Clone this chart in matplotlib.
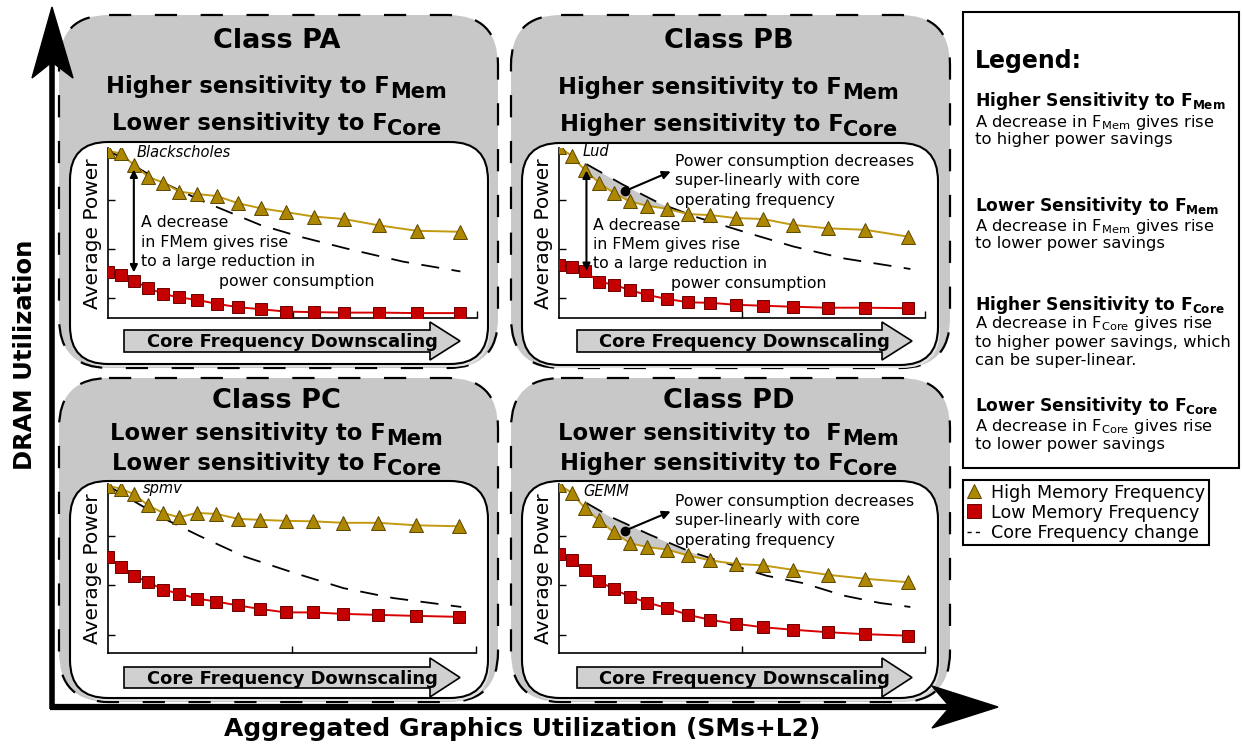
import numpy as np
import matplotlib
matplotlib.use("Agg")
from matplotlib import pyplot as plt
from matplotlib.patches import FancyBboxPatch, Polygon, Rectangle
from matplotlib.lines import Line2D

plt.rcParams['font.family'] = ['DejaVu Sans']
plt.rcParams['mathtext.fontset'] = 'dejavusans'
plt.rcParams['lines.scale_dashes'] = False

W, H = 1242, 747

"""Valores lidos do gráfico (eixo x: 0..2, eixo y: unidades de tick)"""
freq_steps = [0.0, 0.069, 0.141, 0.219, 0.300, 0.387, 0.481, 0.589,
              0.707, 0.827, 0.965, 1.116, 1.279, 1.469, 1.673, 1.908]

# Class PA - Blackscholes
pa_high = [3.00, 2.95, 2.71, 2.47, 2.35, 2.17, 2.12, 2.08, 1.93, 1.83, 1.75, 1.66, 1.61, 1.48, 1.37, 1.35]
pa_low = [0.52, 0.47, 0.35, 0.20, 0.08, 0.01, -0.04, -0.12, -0.19, -0.23, -0.28, -0.29, -0.30, -0.30, -0.31, -0.31]
pa_ref_x = [0.0, 0.14, 0.30, 0.515, 0.825, 1.04, 1.29, 1.60, 1.91]
pa_ref = [3.02, 2.70, 2.35, 1.97, 1.49, 1.25, 1.01, 0.74, 0.54]

# Class PB - Lud
pb_high = [3.08, 2.90, 2.61, 2.35, 2.14, 1.97, 1.88, 1.82, 1.71, 1.69, 1.63, 1.61, 1.49, 1.42, 1.39, 1.25]
pb_low = [0.67, 0.64, 0.54, 0.33, 0.27, 0.16, 0.06, -0.02, -0.09, -0.10, -0.14, -0.16, -0.18, -0.20, -0.20, -0.21]
pb_ref_x = [0.15, 0.35, 0.55, 0.75, 1.01, 1.28, 1.55, 1.92]
pb_ref = [2.73, 2.31, 1.93, 1.65, 1.35, 1.05, 0.81, 0.59]

# Class PC - spmv
pc_high = [3.01, 2.95, 2.84, 2.61, 2.46, 2.37, 2.46, 2.44, 2.34, 2.32, 2.30, 2.29, 2.26, 2.26, 2.21, 2.19]
pc_low = [1.57, 1.36, 1.19, 1.06, 0.91, 0.83, 0.73, 0.67, 0.59, 0.52, 0.45, 0.45, 0.42, 0.40, 0.38, 0.36]
pc_ref_x = [0.0, 0.28, 0.50, 0.74, 1.01, 1.28, 1.55, 1.92]
pc_ref = [3.01, 2.39, 1.99, 1.58, 1.25, 0.94, 0.74, 0.56]

# Class PD - GEMM
pd_high = [3.03, 2.87, 2.56, 2.31, 2.07, 1.85, 1.77, 1.72, 1.60, 1.50, 1.43, 1.40, 1.31, 1.21, 1.13, 1.06]
pd_low = [1.62, 1.50, 1.30, 1.08, 0.92, 0.77, 0.65, 0.54, 0.40, 0.30, 0.22, 0.15, 0.10, 0.05, 0.01, -0.02]
pd_ref_x = [0.15, 0.277, 0.496, 0.715, 0.825, 0.97, 1.135, 1.336, 1.555, 1.755, 1.92]
pd_ref = [2.66, 2.39, 2.02, 1.68, 1.55, 1.38, 1.19, 1.04, 0.79, 0.64, 0.56]

"""Cores"""
gold = '#ad8700'
gold_line = '#c2990f'
gold_edge = '#5c4600'
red = '#c40000'
red_line = '#d80000'
red_edge = '#6a0000'
box_grey = '#c8c8c8'

fig = plt.figure(figsize=(W / 100, H / 100), dpi=100)
bg = fig.add_axes([0, 0, 1, 1])
bg.set_autoscale_on(False)
bg.set_xlim(0, W)
bg.set_ylim(H, 0)
bg.axis('off')
renderer = fig.canvas.get_renderer()


def two_part(xc, yb, main, sub, size, drop=5):
    """texto em negrito com subscrito grande, centrado em xc"""
    t1 = bg.text(xc, yb, main, fontsize=size, fontweight='bold', ha='left', va='baseline')
    t2 = bg.text(xc, yb + drop, sub, fontsize=size * 0.92, fontweight='bold', ha='left', va='baseline')
    w1 = t1.get_window_extent(renderer).width
    w2 = t2.get_window_extent(renderer).width
    x0 = xc - (w1 + w2) / 2
    t1.set_x(x0)
    t2.set_x(x0 + w1)


def draw_panel(grey, inner, axbox, ylim, scale, title, title_y, lines, sub_y, arrow_y, arrow_x,
               bench, bench_pos, high, low, ref_x, ref):
    gx0, gy0, gx1, gy1 = grey
    bg.add_patch(FancyBboxPatch((gx0, gy0), gx1 - gx0, gy1 - gy0,
                                boxstyle='round,pad=0,rounding_size=50', fc=box_grey,
                                ec='black', lw=1.6, ls=(0, (16, 17)), zorder=1))
    ix0, iy0, ix1, iy1 = inner
    bg.add_patch(FancyBboxPatch((ix0 + 2, iy0 + 3), ix1 - ix0, iy1 - iy0,
                                boxstyle='round,pad=0,rounding_size=38', fc='#e2e2e2',
                                ec='none', zorder=2))
    bg.add_patch(FancyBboxPatch((ix0, iy0), ix1 - ix0, iy1 - iy0,
                                boxstyle='round,pad=0,rounding_size=38', fc='white',
                                ec='black', lw=1.5, zorder=2))
    xc = (gx0 + gx1) / 2 - 2
    bg.text(xc, title_y, title, fontsize=19.5, fontweight='bold', ha='center', va='baseline')
    for (main, sub), yb in zip(lines, sub_y):
        two_part(xc, yb, main, sub, 16.3)

    # seta "Core Frequency Downscaling"
    ry0, ry1, hy0, hy1 = arrow_y
    ax0, axh, tip = arrow_x
    cy = (ry0 + ry1) / 2
    bg.add_patch(Polygon([(ax0, ry0), (axh, ry0), (axh, hy0), (tip, cy), (axh, hy1), (axh, ry1), (ax0, ry1)],
                         closed=True, fc='#d0d0d0', ec='black', lw=1.2, zorder=3))
    bg.text((ax0 + axh) / 2 + 15, cy + 1, 'Core Frequency Downscaling', fontsize=12.9,
            fontweight='bold', ha='center', va='center', zorder=4)

    L, R, B = axbox
    hpx = (ylim[1] - ylim[0]) * scale
    ax = fig.add_axes([L / W, 1 - B / H, (R - L) / W, hpx / H])
    ax.patch.set_alpha(0)
    ax.plot(ref_x, ref, color='black', lw=1.3, ls=(0, (13, 9)), zorder=2)
    ax.plot(freq_steps, high, color=gold_line, lw=1.4, marker='^', ms=10,
            mfc=gold, mec=gold_edge, mew=0.7, zorder=3)
    ax.plot(freq_steps, low, color=red_line, lw=1.4, marker='s', ms=8.3,
            mfc=red, mec=red_edge, mew=0.7, zorder=3)
    ax.set_xlim(0, 2)
    ax.set_ylim(ylim)
    ax.set_xticks([1, 2])
    ax.set_yticks([0, 1, 2])
    ax.tick_params(direction='in', length=5, width=1, labelleft=False, labelbottom=False)
    for s in ['top', 'right']:
        ax.spines[s].set_visible(False)
    for s in ['left', 'bottom']:
        ax.spines[s].set_linewidth(1.2)
    ax.set_ylabel('Average Power', fontsize=14.5, labelpad=4)
    ax.text(bench_pos[0], bench_pos[1], bench, fontsize=10.5, style='italic',
            ha='left', va='center', transform=ax.transData)
    return ax


ax_pa = draw_panel((59, 15, 498, 368), (70, 142, 488, 364), (108, 477, 318), (-0.41, 3.05), 49,
                   'Class PA', 48,
                   [('Higher sensitivity to F', 'Mem'), ('Lower sensitivity to F', 'Core')], (93, 130),
                   (330, 352, 322, 360), (124, 430, 460),
                   'Blackscholes', (0.157, 2.97), pa_high, pa_low, pa_ref_x, pa_ref)
ax_pb = draw_panel((511, 15, 950, 368), (522, 143, 938, 365), (559, 925, 318), (-0.41, 3.05), 49,
                   'Class PB', 48,
                   [('Higher sensitivity to F', 'Mem'), ('Higher sensitivity to F', 'Core')], (94, 131),
                   (330, 352, 322, 360), (577, 882, 912),
                   'Lud', (0.128, 2.99), pb_high, pb_low, pb_ref_x, pb_ref)
ax_pc = draw_panel((59, 378, 498, 702), (70, 481, 488, 698), (108, 476, 653), (-0.37, 3.05), 49.5,
                   'Class PC', 408,
                   [('Lower sensitivity to F', 'Mem'), ('Lower sensitivity to F', 'Core')], (440, 470),
                   (667, 688, 658, 697), (124, 430, 460),
                   'spmv', (0.19, 2.96), pc_high, pc_low, pc_ref_x, pc_ref)
ax_pd = draw_panel((511, 378, 950, 702), (522, 481, 938, 698), (559, 925, 653), (-0.37, 3.05), 49.5,
                   'Class PD', 408,
                   [('Lower sensitivity to  F', 'Mem'), ('Higher sensitivity to F', 'Core')], (440, 470),
                   (667, 688, 658, 697), (577, 882, 912),
                   'GEMM', (0.135, 2.89), pd_high, pd_low, pd_ref_x, pd_ref)

"""Anotações dentro dos painéis"""
arrow2 = dict(arrowstyle='<|-|>', color='black', lw=1.5, mutation_scale=11, shrinkA=0, shrinkB=0)
ax_pa.annotate('', xy=(0.14, 2.62), xytext=(0.14, 0.52), arrowprops=arrow2)
ax_pb.annotate('', xy=(0.15, 2.60), xytext=(0.15, 0.55), arrowprops=arrow2)

dec_lines = ['A decrease', 'in FMem gives rise', 'to a large reduction in']
for x0, ys, xlast in [(141, (222.7, 242.7, 261.7, 281.7), 219), (593, (225, 245, 263.3, 283.3), 671)]:
    for txt, yy in zip(dec_lines, ys[:3]):
        bg.text(x0, yy, txt, fontsize=11.3, ha='left', va='center', zorder=5)
    bg.text(xlast, ys[3], 'power consumption', fontsize=11.3, ha='left', va='center', zorder=5)

# região super-linear sombreada
for ax, high, rx, ry, x_end, dot, tip, ys in [
        (ax_pb, pb_high, pb_ref_x, pb_ref, 0.71, (0.36, 2.18), (0.61, 2.58), (161.7, 181, 200)),
        (ax_pd, pd_high, pd_ref_x, pd_ref, 0.93, (0.36, 2.10), (0.61, 2.49), (501.7, 521, 540))]:
    xs = np.linspace(0.14, x_end, 60)
    ax.fill_between(xs, np.interp(xs, freq_steps, high), np.interp(xs, rx, ry),
                    color='#c8c8c8', lw=0, zorder=1)
    ax.plot(dot[0], dot[1], 'o', color='black', ms=6, zorder=4)
    ax.annotate('', xy=tip, xytext=dot,
                arrowprops=dict(arrowstyle='-|>', color='black', lw=1.5, mutation_scale=12,
                                shrinkA=0, shrinkB=0))
    for txt, yy in zip(['Power consumption decreases', 'super-linearly with core',
                        'operating frequency'], ys):
        bg.text(675, yy, txt, fontsize=11.3, ha='left', va='center', zorder=5)

"""Eixos grandes"""
bg.plot([52, 52], [709, 60], color='black', lw=4, solid_capstyle='butt', zorder=6)
bg.add_patch(Polygon([(52, 7), (73, 78), (52, 62), (32, 78)], closed=True, fc='black', ec='black', zorder=6))
bg.plot([50, 955], [707, 707], color='black', lw=4.5, solid_capstyle='butt', zorder=6)
bg.add_patch(Polygon([(998, 707), (932, 728), (950, 707), (932, 686)], closed=True, fc='black', ec='black', zorder=6))
bg.text(25, 355, 'DRAM Utilization', rotation=90, fontsize=17.5, fontweight='bold', ha='center', va='center')
bg.text(522, 729, 'Aggregated Graphics Utilization (SMs+L2)', fontsize=18, fontweight='bold',
        ha='center', va='center')

"""Caixa de legenda textual"""
bg.add_patch(Rectangle((963, 12), 276, 456, fc='white', ec='black', lw=1.5, zorder=1))
bg.text(975, 68, 'Legend:', fontsize=17, fontweight='bold', ha='left', va='baseline')
leg_heads = ['Higher Sensitivity to F$_{\\mathbf{Mem}}$', 'Lower Sensitivity to F$_{\\mathbf{Mem}}$',
             'Higher Sensitivity to F$_{\\mathbf{Core}}$', 'Lower Sensitivity to F$_{\\mathbf{Core}}$']
leg_body = [['A decrease in F$_{\\mathrm{Mem}}$ gives rise', 'to higher power savings'],
            ['A decrease in F$_{\\mathrm{Mem}}$ gives rise', 'to lower power savings'],
            ['A decrease in F$_{\\mathrm{Core}}$ gives rise', 'to higher power savings, which',
             'can be super-linear.'],
            ['A decrease in F$_{\\mathrm{Core}}$ gives rise', 'to lower power savings']]
head_y = [106, 211, 310, 411]
body_y = [[127, 144], [231, 248], [328, 347, 365], [431, 449]]
for hd, yb, body, bys in zip(leg_heads, head_y, leg_body, body_y):
    bg.text(975, yb, hd, fontsize=12.3, fontweight='bold', ha='left', va='baseline')
    for txt, by in zip(body, bys):
        bg.text(975, by, txt, fontsize=11.8, ha='left', va='baseline')

"""Legenda das séries"""
handles = [Line2D([], [], ls='None', marker='^', ms=10, mfc=gold, mec=gold_edge, mew=0.7),
           Line2D([], [], ls='None', marker='s', ms=10, mfc=red, mec=red_edge, mew=0.7),
           Line2D([], [], color='black', lw=1, ls=(0, (3, 3)))]
leg = bg.legend(handles, ['High Memory Frequency', 'Low Memory Frequency', 'Core Frequency change'],
                loc='upper left', bbox_to_anchor=(963, 480), bbox_transform=bg.transData,
                fontsize=12.6, frameon=True, fancybox=False, framealpha=1, edgecolor='black',
                borderpad=0.2, handlelength=0.9, handletextpad=0.5, labelspacing=0.12,
                borderaxespad=0)
leg.get_frame().set_linewidth(1.5)

fig.savefig('out.png', dpi=100)
